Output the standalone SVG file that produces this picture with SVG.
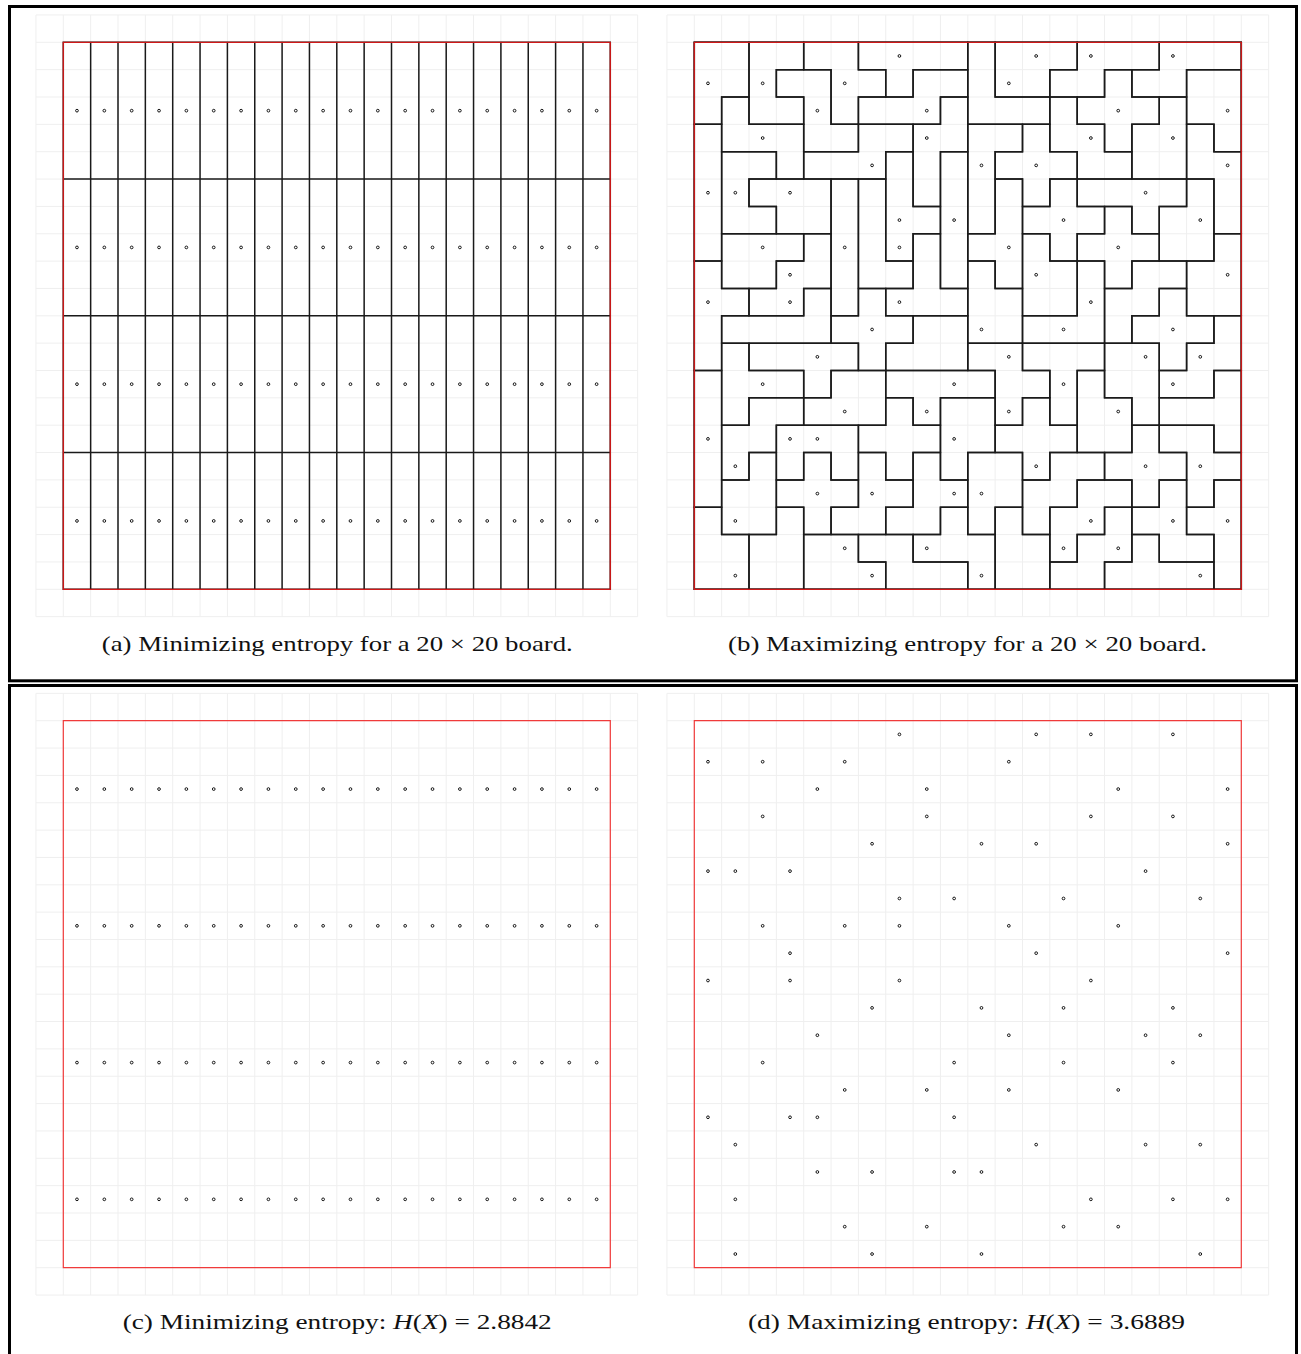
<svg xmlns="http://www.w3.org/2000/svg" xmlns:xlink="http://www.w3.org/1999/xlink" width="1301" height="1354" viewBox="0 0 1301 1354">
<style>
.frame{fill:none;stroke:#000;stroke-width:3}
.lgrid{fill:none;stroke:#efefef;stroke-width:1;vector-effect:non-scaling-stroke}
.tile{fill:none;stroke:#1a1a1a;stroke-width:1.5;vector-effect:non-scaling-stroke;stroke-linecap:square}
.redT{fill:none;stroke:#d01818;stroke-width:1.3;vector-effect:non-scaling-stroke}
.redB{fill:none;stroke:#f03a3a;stroke-width:1.2;vector-effect:non-scaling-stroke}
.dot{fill:#fff;stroke:#000;stroke-width:0.9;vector-effect:non-scaling-stroke}
.cap{font-family:"Liberation Serif","DejaVu Serif",serif;font-size:21px;fill:#111}
.it{font-style:italic}
</style>
<defs>
<path id="lg" class="lgrid" d="M-1 -1V21M0 -1V21M1 -1V21M2 -1V21M3 -1V21M4 -1V21M5 -1V21M6 -1V21M7 -1V21M8 -1V21M9 -1V21M10 -1V21M11 -1V21M12 -1V21M13 -1V21M14 -1V21M15 -1V21M16 -1V21M17 -1V21M18 -1V21M19 -1V21M20 -1V21M21 -1V21M-1 -1H21M-1 0H21M-1 1H21M-1 2H21M-1 3H21M-1 4H21M-1 5H21M-1 6H21M-1 7H21M-1 8H21M-1 9H21M-1 10H21M-1 11H21M-1 12H21M-1 13H21M-1 14H21M-1 15H21M-1 16H21M-1 17H21M-1 18H21M-1 19H21M-1 20H21M-1 21H21"/>
<g id="dotrow">
<circle class="dot" cx="0.5" cy="0" r="0.05"/><circle class="dot" cx="1.5" cy="0" r="0.05"/><circle class="dot" cx="2.5" cy="0" r="0.05"/><circle class="dot" cx="3.5" cy="0" r="0.05"/><circle class="dot" cx="4.5" cy="0" r="0.05"/><circle class="dot" cx="5.5" cy="0" r="0.05"/><circle class="dot" cx="6.5" cy="0" r="0.05"/><circle class="dot" cx="7.5" cy="0" r="0.05"/><circle class="dot" cx="8.5" cy="0" r="0.05"/><circle class="dot" cx="9.5" cy="0" r="0.05"/><circle class="dot" cx="10.5" cy="0" r="0.05"/><circle class="dot" cx="11.5" cy="0" r="0.05"/><circle class="dot" cx="12.5" cy="0" r="0.05"/><circle class="dot" cx="13.5" cy="0" r="0.05"/><circle class="dot" cx="14.5" cy="0" r="0.05"/><circle class="dot" cx="15.5" cy="0" r="0.05"/><circle class="dot" cx="16.5" cy="0" r="0.05"/><circle class="dot" cx="17.5" cy="0" r="0.05"/><circle class="dot" cx="18.5" cy="0" r="0.05"/><circle class="dot" cx="19.5" cy="0" r="0.05"/>
</g>
<g id="dotsMin">
<use xlink:href="#dotrow" y="2.5"/><use xlink:href="#dotrow" y="7.5"/><use xlink:href="#dotrow" y="12.5"/><use xlink:href="#dotrow" y="17.5"/>
</g>
<g id="dotsMax">
<circle class="dot" cx="7.5" cy="0.5" r="0.05"/><circle class="dot" cx="12.5" cy="0.5" r="0.05"/><circle class="dot" cx="14.5" cy="0.5" r="0.05"/><circle class="dot" cx="17.5" cy="0.5" r="0.05"/>
<circle class="dot" cx="0.5" cy="1.5" r="0.05"/><circle class="dot" cx="2.5" cy="1.5" r="0.05"/><circle class="dot" cx="5.5" cy="1.5" r="0.05"/><circle class="dot" cx="11.5" cy="1.5" r="0.05"/>
<circle class="dot" cx="4.5" cy="2.5" r="0.05"/><circle class="dot" cx="8.5" cy="2.5" r="0.05"/><circle class="dot" cx="15.5" cy="2.5" r="0.05"/><circle class="dot" cx="19.5" cy="2.5" r="0.05"/>
<circle class="dot" cx="2.5" cy="3.5" r="0.05"/><circle class="dot" cx="8.5" cy="3.5" r="0.05"/><circle class="dot" cx="14.5" cy="3.5" r="0.05"/><circle class="dot" cx="17.5" cy="3.5" r="0.05"/>
<circle class="dot" cx="6.5" cy="4.5" r="0.05"/><circle class="dot" cx="10.5" cy="4.5" r="0.05"/><circle class="dot" cx="12.5" cy="4.5" r="0.05"/><circle class="dot" cx="19.5" cy="4.5" r="0.05"/>
<circle class="dot" cx="0.5" cy="5.5" r="0.05"/><circle class="dot" cx="1.5" cy="5.5" r="0.05"/><circle class="dot" cx="3.5" cy="5.5" r="0.05"/><circle class="dot" cx="16.5" cy="5.5" r="0.05"/>
<circle class="dot" cx="7.5" cy="6.5" r="0.05"/><circle class="dot" cx="9.5" cy="6.5" r="0.05"/><circle class="dot" cx="13.5" cy="6.5" r="0.05"/><circle class="dot" cx="18.5" cy="6.5" r="0.05"/>
<circle class="dot" cx="2.5" cy="7.5" r="0.05"/><circle class="dot" cx="5.5" cy="7.5" r="0.05"/><circle class="dot" cx="7.5" cy="7.5" r="0.05"/><circle class="dot" cx="11.5" cy="7.5" r="0.05"/><circle class="dot" cx="15.5" cy="7.5" r="0.05"/>
<circle class="dot" cx="3.5" cy="8.5" r="0.05"/><circle class="dot" cx="12.5" cy="8.5" r="0.05"/><circle class="dot" cx="19.5" cy="8.5" r="0.05"/>
<circle class="dot" cx="0.5" cy="9.5" r="0.05"/><circle class="dot" cx="3.5" cy="9.5" r="0.05"/><circle class="dot" cx="7.5" cy="9.5" r="0.05"/><circle class="dot" cx="14.5" cy="9.5" r="0.05"/>
<circle class="dot" cx="6.5" cy="10.5" r="0.05"/><circle class="dot" cx="10.5" cy="10.5" r="0.05"/><circle class="dot" cx="13.5" cy="10.5" r="0.05"/><circle class="dot" cx="17.5" cy="10.5" r="0.05"/>
<circle class="dot" cx="4.5" cy="11.5" r="0.05"/><circle class="dot" cx="11.5" cy="11.5" r="0.05"/><circle class="dot" cx="16.5" cy="11.5" r="0.05"/><circle class="dot" cx="18.5" cy="11.5" r="0.05"/>
<circle class="dot" cx="2.5" cy="12.5" r="0.05"/><circle class="dot" cx="9.5" cy="12.5" r="0.05"/><circle class="dot" cx="13.5" cy="12.5" r="0.05"/><circle class="dot" cx="17.5" cy="12.5" r="0.05"/>
<circle class="dot" cx="5.5" cy="13.5" r="0.05"/><circle class="dot" cx="8.5" cy="13.5" r="0.05"/><circle class="dot" cx="11.5" cy="13.5" r="0.05"/><circle class="dot" cx="15.5" cy="13.5" r="0.05"/>
<circle class="dot" cx="0.5" cy="14.5" r="0.05"/><circle class="dot" cx="3.5" cy="14.5" r="0.05"/><circle class="dot" cx="4.5" cy="14.5" r="0.05"/><circle class="dot" cx="9.5" cy="14.5" r="0.05"/>
<circle class="dot" cx="1.5" cy="15.5" r="0.05"/><circle class="dot" cx="12.5" cy="15.5" r="0.05"/><circle class="dot" cx="16.5" cy="15.5" r="0.05"/><circle class="dot" cx="18.5" cy="15.5" r="0.05"/>
<circle class="dot" cx="4.5" cy="16.5" r="0.05"/><circle class="dot" cx="6.5" cy="16.5" r="0.05"/><circle class="dot" cx="9.5" cy="16.5" r="0.05"/><circle class="dot" cx="10.5" cy="16.5" r="0.05"/>
<circle class="dot" cx="1.5" cy="17.5" r="0.05"/><circle class="dot" cx="14.5" cy="17.5" r="0.05"/><circle class="dot" cx="17.5" cy="17.5" r="0.05"/><circle class="dot" cx="19.5" cy="17.5" r="0.05"/>
<circle class="dot" cx="5.5" cy="18.5" r="0.05"/><circle class="dot" cx="8.5" cy="18.5" r="0.05"/><circle class="dot" cx="13.5" cy="18.5" r="0.05"/><circle class="dot" cx="15.5" cy="18.5" r="0.05"/>
<circle class="dot" cx="1.5" cy="19.5" r="0.05"/><circle class="dot" cx="6.5" cy="19.5" r="0.05"/><circle class="dot" cx="10.5" cy="19.5" r="0.05"/><circle class="dot" cx="18.5" cy="19.5" r="0.05"/>
</g>
</defs>
<rect width="1301" height="1354" fill="#fff"/>
<g id="frames">
<rect class="frame" x="9.5" y="6.5" width="1287" height="674.3"/>
<rect class="frame" x="9.5" y="685.5" width="1287" height="700"/>
</g>
<g id="panel-a" transform="translate(63.3,42.3) scale(27.35)">
<use xlink:href="#lg"/>
<path class="tile" d="M1 0V20M2 0V20M3 0V20M4 0V20M5 0V20M6 0V20M7 0V20M8 0V20M9 0V20M10 0V20M11 0V20M12 0V20M13 0V20M14 0V20M15 0V20M16 0V20M17 0V20M18 0V20M19 0V20M0 5H20M0 10H20M0 15H20M0 0H20V20H0Z"/>
<rect class="redT" x="0" y="0" width="20" height="20"/>
<use xlink:href="#dotsMin"/>
</g>
<g id="panel-b" transform="translate(694.3,42.3) scale(27.35)">
<use xlink:href="#lg"/>
<g id="tiles-b">
<path class="tile" d="M0 0H20V20H0Z"/>
<path class="tile" d="M0 0H2V2H1V3H0Z"/>
<path class="tile" d="M2 0H4V1H3V2H4V3H2Z"/>
<path class="tile" d="M3 1H5V3H6V4H4V2H3Z"/>
<path class="tile" d="M4 0H6V1H7V2H6V3H5V1H4Z"/>
<path class="tile" d="M6 0H10V1H8V2H7V1H6Z"/>
<path class="tile" d="M8 1H10V2H9V3H6V2H8Z"/>
<path class="tile" d="M1 2H2V3H4V5H3V4H1Z"/>
<path class="tile" d="M0 3H1V8H0Z"/>
<path class="tile" d="M1 4H3V5H2V6H3V7H1Z"/>
<path class="tile" d="M2 5H5V7H3V6H2Z"/>
<path class="tile" d="M6 3H8V4H7V5H4V4H6Z"/>
<path class="tile" d="M9 2H10V4H9V6H8V3H9Z"/>
<path class="tile" d="M9 4H10V9H9Z"/>
<path class="tile" d="M7 4H8V6H9V7H8V8H7Z"/>
<path class="tile" d="M5 5H6V10H5Z"/>
<path class="tile" d="M6 5H7V8H8V9H6Z"/>
<path class="tile" d="M1 7H4V8H3V9H1Z"/>
<path class="tile" d="M4 7H5V9H4V10H2V9H3V8H4Z"/>
<path class="tile" d="M0 8H1V9H2V10H1V12H0Z"/>
<path class="tile" d="M8 7H9V9H10V10H7V9H8Z"/>
<path class="tile" d="M10 0H11V2H13V3H10Z"/>
<path class="tile" d="M11 0H14V1H13V2H11Z"/>
<path class="tile" d="M14 0H17V1H15V2H13V1H14Z"/>
<path class="tile" d="M17 0H20V1H18V2H16V1H17Z"/>
<path class="tile" d="M15 1H16V2H17V3H16V4H15V3H14V2H15Z"/>
<path class="tile" d="M18 1H20V4H19V3H18Z"/>
<path class="tile" d="M13 2H14V3H15V4H16V5H14V4H13Z"/>
<path class="tile" d="M17 2H18V5H16V3H17Z"/>
<path class="tile" d="M18 3H19V4H20V7H19V5H18Z"/>
<path class="tile" d="M10 3H12V4H11V7H10Z"/>
<path class="tile" d="M12 3H13V4H14V5H13V6H12V5H11V4H12Z"/>
<path class="tile" d="M14 5H18V6H17V7H16V6H14Z"/>
<path class="tile" d="M18 5H19V8H17V6H18Z"/>
<path class="tile" d="M13 5H14V6H15V7H14V8H13V7H12V6H13Z"/>
<path class="tile" d="M11 5H12V9H11V8H10V7H11Z"/>
<path class="tile" d="M15 6H16V7H17V8H16V9H15V8H14V7H15Z"/>
<path class="tile" d="M12 7H13V8H14V10H12Z"/>
<path class="tile" d="M19 7H20V10H18V8H19Z"/>
<path class="tile" d="M10 8H11V9H12V11H10Z"/>
<path class="tile" d="M14 8H15V11H12V10H14Z"/>
<path class="tile" d="M16 8H18V9H17V10H16V11H15V9H16Z"/>
<path class="tile" d="M17 9H18V10H19V11H18V12H17V11H16V10H17Z"/>
<path class="tile" d="M19 10H20V12H19V13H17V12H18V11H19Z"/>
<path class="tile" d="M4 9H5V11H1V10H4Z"/>
<path class="tile" d="M6 9H7V10H8V11H7V12H6V11H5V10H6Z"/>
<path class="tile" d="M2 11H6V12H5V13H4V12H2Z"/>
<path class="tile" d="M8 10H10V12H7V11H8Z"/>
<path class="tile" d="M10 11H12V12H13V13H12V14H11V12H10Z"/>
<path class="tile" d="M12 11H15V12H14V14H13V12H12Z"/>
<path class="tile" d="M15 11H17V14H16V13H15Z"/>
<path class="tile" d="M1 11H2V12H4V13H2V14H1Z"/>
<path class="tile" d="M0 12H1V17H0Z"/>
<path class="tile" d="M5 12H7V14H4V13H5Z"/>
<path class="tile" d="M2 13H4V14H3V15H2V16H1V14H2Z"/>
<path class="tile" d="M7 12H11V13H9V14H8V13H7Z"/>
<path class="tile" d="M7 13H8V14H9V15H8V16H7V15H6V14H7Z"/>
<path class="tile" d="M9 13H11V15H10V16H9Z"/>
<path class="tile" d="M12 13H13V14H14V15H13V16H12V15H11V14H12Z"/>
<path class="tile" d="M14 12H15V13H16V15H14Z"/>
<path class="tile" d="M19 12H20V15H19V14H17V13H19Z"/>
<path class="tile" d="M3 14H6V16H5V15H4V16H3Z"/>
<path class="tile" d="M4 15H5V16H6V17H5V18H4V17H3V16H4Z"/>
<path class="tile" d="M2 15H3V18H1V16H2Z"/>
<path class="tile" d="M0 17H1V18H2V20H0Z"/>
<path class="tile" d="M3 17H4V20H2V18H3Z"/>
<path class="tile" d="M16 14H17V15H18V16H17V17H16V16H15V15H16Z"/>
<path class="tile" d="M17 14H19V15H20V16H19V17H18V15H17Z"/>
<path class="tile" d="M19 16H20V20H19V18H18V17H19Z"/>
<path class="tile" d="M17 16H18V18H19V19H17V18H16V17H17Z"/>
<path class="tile" d="M16 18H17V19H19V20H15V19H16Z"/>
<path class="tile" d="M6 15H7V16H8V17H7V18H5V17H6Z"/>
<path class="tile" d="M8 15H9V16H10V17H9V18H7V17H8Z"/>
<path class="tile" d="M10 15H12V17H11V18H10Z"/>
<path class="tile" d="M13 15H15V16H14V17H13V18H12V16H13Z"/>
<path class="tile" d="M14 16H16V17H15V18H14V19H13V17H14Z"/>
<path class="tile" d="M15 17H16V19H15V20H13V19H14V18H15Z"/>
<path class="tile" d="M11 17H12V18H13V20H11Z"/>
<path class="tile" d="M9 17H10V18H11V20H10V19H8V18H9Z"/>
<path class="tile" d="M4 18H6V19H7V20H4Z"/>
<path class="tile" d="M6 18H8V19H10V20H7V19H6Z"/>
</g>
<rect class="redT" x="0" y="0" width="20" height="20"/>
<use xlink:href="#dotsMax"/>
</g>
<g id="panel-c" transform="translate(63.3,720.7) scale(27.35)">
<use xlink:href="#lg"/>
<rect class="redB" x="0" y="0" width="20" height="20"/>
<use xlink:href="#dotsMin"/>
</g>
<g id="panel-d" transform="translate(694.3,720.7) scale(27.35)">
<use xlink:href="#lg"/>
<rect class="redB" x="0" y="0" width="20" height="20"/>
<use xlink:href="#dotsMax"/>
</g>
<g id="captions">
<text class="cap" x="337.3" y="651" text-anchor="middle" textLength="471" lengthAdjust="spacingAndGlyphs">(a) Minimizing entropy for a 20 × 20 board.</text>
<text class="cap" x="967.5" y="651" text-anchor="middle" textLength="479" lengthAdjust="spacingAndGlyphs">(b) Maximizing entropy for a 20 × 20 board.</text>
<text class="cap" x="337.2" y="1329" text-anchor="middle" textLength="429" lengthAdjust="spacingAndGlyphs">(c) Minimizing entropy: <tspan class="it">H</tspan>(<tspan class="it">X</tspan>) = 2.8842</text>
<text class="cap" x="966.5" y="1329" text-anchor="middle" textLength="437" lengthAdjust="spacingAndGlyphs">(d) Maximizing entropy: <tspan class="it">H</tspan>(<tspan class="it">X</tspan>) = 3.6889</text>
</g>
</svg>
